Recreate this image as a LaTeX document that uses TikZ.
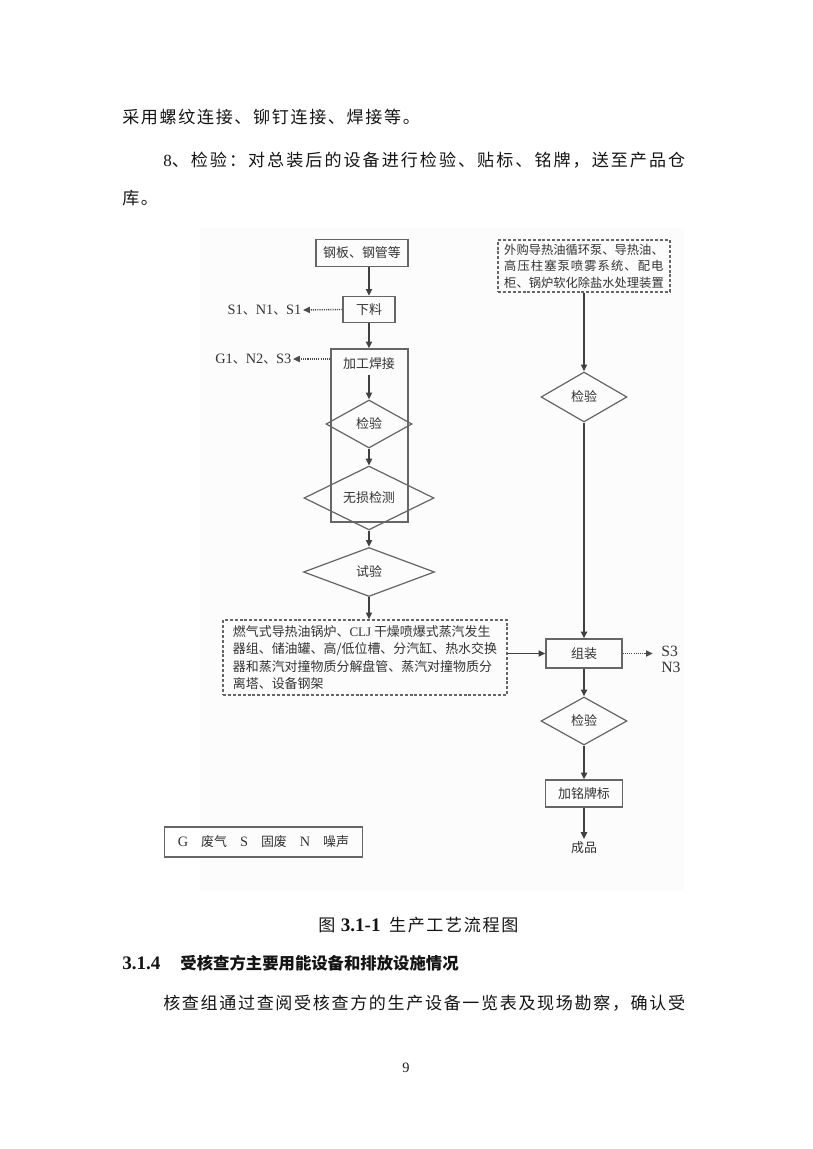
\documentclass[tikz,border=0pt]{standalone}
\usepackage{fontspec}
\setmainfont{Liberation Serif}
\newfontfamily\cjk{Noto Sans CJK SC}
\newfontfamily\cjkbody{Noto Sans CJK SC}[LetterSpace=9.7]
\newfontfamily\cjkwide{Noto Sans CJK SC}[LetterSpace=12]
\newfontfamily\cjkfit{Noto Sans CJK SC}[LetterSpace=8.8]
\usepackage{tikz}
\usetikzlibrary{positioning, shapes.geometric, arrows.meta}
\newdimen\unitpx \unitpx=0.7333pt
\newcommand{\lat}[1]{{\rmfamily #1}}

\begin{document}
\begin{tikzpicture}[
            x=0.7333pt, y=-0.7333pt,
            every node/.style={font=\cjk\fontsize{9.5}{12}\selectfont, text=black!80},
            box/.style={draw=black!60, line width=0.9pt, inner sep=0pt},
            dbox/.style={box, dash pattern=on 2.2pt off 1.4pt},
            diam/.style={draw=black!60, line width=0.9pt, shape=diamond, inner sep=0pt},
            flow/.style={draw=black!75, line width=1.2pt, -{Triangle[length=5pt, width=4.5pt]}},
            emit/.style={draw=black!70, line width=1pt, dash pattern=on 0.8pt off 0.8pt, -{Triangle[length=5pt, width=4.5pt]}},
            body/.style={anchor=west, inner sep=0pt, font=\cjkbody\fontsize{12.5}{15}\selectfont, text=black!92}
        ]
        \useasboundingbox (0,0) rectangle (812,1149);

        % Text above the figure
        \node[body] (l1) at (122,117) {采用螺纹连接、铆钉连接、焊接等。};
        \node[body, font=\cjkwide\fontsize{12.5}{15}\selectfont] (l2) at (163,160) {\lat{8}、检验：对总装后的设备进行检验、贴标、铭牌，送至产品仓};
        \node[body] (l3) at (122,198) {库。};

        % Scanned figure area
        \fill[black!1] (200,228) rectangle (684,890);

        % Left column: steel parts
        \node[box, minimum width=92\unitpx, minimum height=27\unitpx] (steel) at (362,253) {钢板、钢管等};
        \node[box, minimum width=52\unitpx, minimum height=26\unitpx] (cut) at (369,309.5) {下料};
        \node[box, minimum width=77\unitpx, minimum height=173\unitpx] (weldbox) at (369.5,435.5) {};
        \node (weld) at (369,364) {加工焊接};
        \node[diam, minimum width=86\unitpx, minimum height=48\unitpx] (chk1) at (369,424) {检验};
        \node[diam, minimum width=130\unitpx, minimum height=50\unitpx] (ndt) at (369,498) {无损检测};
        \node[diam, minimum width=131\unitpx, minimum height=49\unitpx] (trial) at (369,572) {试验};
        \node[dbox, minimum width=284\unitpx, minimum height=75\unitpx, align=left,
              font=\cjk\fontsize{9.5}{12.7}\selectfont] (equip) at (365,657.5)
              {燃气式导热油锅炉、\lat{CLJ} 干燥喷爆式蒸汽发生\\器组、储油罐、高/低位槽、分汽缸、热水交换\\器和蒸汽对撞物质分解盘管、蒸汽对撞物质分\\离塔、设备钢架};

        % Emissions (left)
        \node[anchor=east, inner sep=1pt, font=\cjk\fontsize{9.5}{12}\selectfont] (e1) at (303,310)
              {\lat{\fontsize{10.5}{12}\selectfont S1}、\lat{\fontsize{10.5}{12}\selectfont N1}、\lat{\fontsize{10.5}{12}\selectfont S1}};
        \node[anchor=east, inner sep=1pt] (e2) at (293,359)
              {\lat{\fontsize{10.5}{12}\selectfont G1}、\lat{\fontsize{10.5}{12}\selectfont N2}、\lat{\fontsize{10.5}{12}\selectfont S3}};

        % Right column: bought-in parts
        \node[dbox, minimum width=172\unitpx, minimum height=52\unitpx, align=left,
              font=\cjk\fontsize{9}{12.1}\selectfont] (buy) at (584,266)
              {外购导热油循环泵、导热油、\\{\cjkfit 高压柱塞泵喷雾系统、配电}\\柜、锅炉软化除盐水处理装置};
        \node[diam, minimum width=86\unitpx, minimum height=50\unitpx] (chk2) at (584,397) {检验};
        \node[box, minimum width=76\unitpx, minimum height=29\unitpx] (asm) at (584,653.5) {组装};
        \node[anchor=west, align=left, inner sep=0pt, font=\rmfamily\fontsize{11.5}{11.7}\selectfont] (e3) at (661,659) {S3\\N3};
        \node[diam, minimum width=86\unitpx, minimum height=48\unitpx] (chk3) at (584,721) {检验};
        \node[box, minimum width=77\unitpx, minimum height=27\unitpx] (plate) at (584,793.5) {加铭牌标};
        \node[inner sep=2pt] (prod) at (584,848) {成品};

        % Legend
        \node[box, minimum width=198\unitpx, minimum height=30\unitpx] (legend) at (263.5,842)
              {\lat{\fontsize{10.5}{12}\selectfont G}\quad 废气\quad \lat{\fontsize{10.5}{12}\selectfont S}\quad 固废\quad \lat{\fontsize{10.5}{12}\selectfont N}\quad 噪声};

        % Arrows, left column
        \draw[flow] (steel.south -| cut) -- (cut.north);
        \draw[flow] (cut.south) -- (cut.south |- weldbox.north);
        \draw[flow] (chk1.north |- weld.south) -- (chk1.north);
        \draw[flow] (chk1.south) -- (ndt.north);
        \draw[flow] (ndt.south) -- (trial.north);
        \draw[flow] (trial.south) -- (trial.south |- equip.north);
        \draw[flow] (equip.east |- asm) -- (asm.west);
        \draw[emit] (cut.west) -- (e1.east);
        \draw[emit] (weldbox.west |- e2) -- (e2.east);

        % Arrows, right column
        \draw[flow] (buy.south) -- (chk2.north);
        \draw[flow] (chk2.south) -- (asm.north);
        \draw[flow] (asm.south) -- (chk3.north);
        \draw[flow] (chk3.south) -- (plate.north);
        \draw[flow] (plate.south) -- (prod.north);
        \draw[emit, shorten >=6pt] (asm.east) -- (asm.east -| e3.west);

        % Caption and text below
        \node[body] (cap) at (318,925) {图 \lat{\fontsize{14}{16}\selectfont\bfseries 3.1-1}\enspace 生产工艺流程图};
        \node[body, font=\cjk\bfseries\fontsize{12}{15}\selectfont] (sec) at (122,963)
              {\lat{\fontsize{14}{16}\selectfont 3.1.4}\hspace{20\unitpx}受核查方主要用能设备和排放设施情况};
        \node[body] (p1) at (163,1003) {核查组通过查阅受核查方的生产设备一览表及现场勘察，确认受};
        \node[font=\rmfamily\fontsize{10.5}{12}\selectfont, text=black!90] (pg) at (406,1068) {9};
\end{tikzpicture}
\end{document}
